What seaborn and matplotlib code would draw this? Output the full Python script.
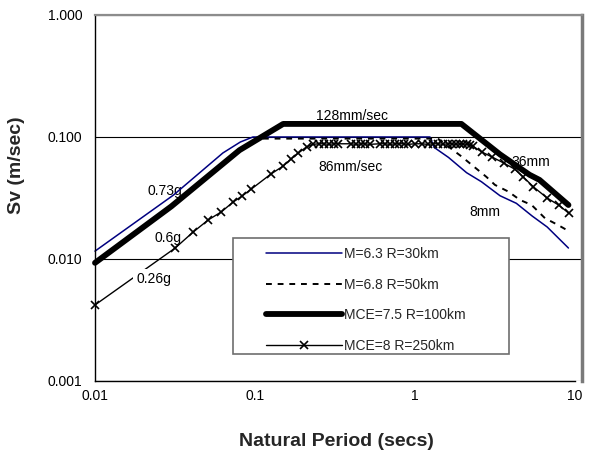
import matplotlib
matplotlib.use("Agg")
import matplotlib.pyplot as plt
from matplotlib.patches import Rectangle
from matplotlib.ticker import NullLocator
import seaborn as sns
import pandas as pd

# ---- data ----
labels = ["M=6.3 R=30km", "M=6.8 R=50km", "MCE=7.5 R=100km", "MCE=8 R=250km"]

T_a = [0.01, 0.031, 0.063, 0.081, 0.097, 1.24, 1.32, 1.62, 2.1, 2.6, 3.4, 4.3, 5.4, 6.7, 9.1]
Sv_a = [0.0116, 0.0335, 0.074, 0.091, 0.1, 0.1, 0.082, 0.068, 0.051, 0.043, 0.033, 0.0286, 0.0225, 0.0183, 0.0123]

T_b = [0.01, 0.03, 0.08, 0.105, 1.39, 1.96, 2.8, 3.16, 3.83, 4.53, 5.36, 6.49, 7.83, 9.3]
Sv_b = [0.0093, 0.027, 0.078, 0.097, 0.097, 0.069, 0.047, 0.0405, 0.0357, 0.0305, 0.0277, 0.0216, 0.019, 0.0167]

T_c = [0.01, 0.03, 0.08, 0.15, 1.95, 3.4, 5.2, 6.0, 9.1]
Sv_c = [0.0093, 0.027, 0.078, 0.128, 0.128, 0.072, 0.049, 0.0445, 0.0277]

T_d = [0.01, 0.0317, 0.041, 0.051, 0.0615, 0.073, 0.083, 0.095, 0.126, 0.15, 0.168, 0.186, 0.21, 0.23,
       0.25, 0.27, 0.29, 0.31, 0.33, 0.4, 0.43, 0.46, 0.49, 0.52, 0.6, 0.65, 0.7, 0.75, 0.8, 0.85, 0.9,
       1.0, 1.1, 1.2, 1.3, 1.4, 1.5, 1.6, 1.7, 1.8, 1.9, 2.0, 2.1, 2.2, 2.3,
       2.62, 3.03, 3.6, 4.2, 4.75, 5.5, 6.7, 7.9, 9.16]
Sv_d = [0.0042, 0.0123, 0.0166, 0.0209, 0.0243, 0.0293, 0.0328, 0.0375, 0.0498, 0.0578, 0.066, 0.0737, 0.083, 0.087,
        0.088, 0.088, 0.087, 0.088, 0.088, 0.088, 0.087, 0.088, 0.088, 0.087, 0.088, 0.088, 0.087, 0.088, 0.088, 0.088, 0.087,
        0.088, 0.088, 0.087, 0.088, 0.088, 0.087, 0.088, 0.088, 0.087, 0.088, 0.088, 0.087, 0.086, 0.084,
        0.0753, 0.0686, 0.061, 0.0545, 0.047, 0.039, 0.0316, 0.0277, 0.0237]

annotations = [("0.73g", 0.0274, 0.036), ("0.6g", 0.0286, 0.0149), ("0.26g", 0.0235, 0.0068),
               ("128mm/sec", 0.404, 0.149), ("86mm/sec", 0.393, 0.0568),
               ("36mm", 5.3, 0.0623), ("8mm", 2.74, 0.0243)]

xticks = [0.01, 0.1, 1, 10]
xticklabels = ["0.01", "0.1", "1", "10"]
yticks = [0.001, 0.01, 0.1, 1]
yticklabels = ["0.001", "0.010", "0.100", "1.000"]

# ---- styling ----
sns.set_theme(style="white")
plt.rcParams["font.family"] = ["Liberation Sans", "DejaVu Sans"]

fig = plt.figure(figsize=(5.9, 4.53), dpi=100)
W, H = 590, 453
ax = fig.add_axes([95 / W, 1 - 381 / H, (582 - 95) / W, (381 - 15) / H])

df_a = pd.DataFrame({"T": T_a, "Sv": Sv_a})
df_b = pd.DataFrame({"T": T_b, "Sv": Sv_b})
df_c = pd.DataFrame({"T": T_c, "Sv": Sv_c})
df_d = pd.DataFrame({"T": T_d, "Sv": Sv_d})

sns.lineplot(data=df_a, x="T", y="Sv", ax=ax, sort=False, estimator=None,
             color="#000080", lw=1.1, label=labels[0], clip_on=False)
sns.lineplot(data=df_b, x="T", y="Sv", ax=ax, sort=False, estimator=None,
             color="black", lw=1.4, linestyle=(0, (3, 3)), label=labels[1], clip_on=False)
sns.lineplot(data=df_c, x="T", y="Sv", ax=ax, sort=False, estimator=None,
             color="black", lw=4.2, solid_capstyle="round", solid_joinstyle="round",
             label=labels[2], clip_on=False)
sns.lineplot(data=df_d, x="T", y="Sv", ax=ax, sort=False, estimator=None,
             color="black", lw=1.0, marker="x", markersize=6, markeredgewidth=1.2,
             markeredgecolor="black", label=labels[3], clip_on=False)

ax.set_xscale("log")
ax.set_yscale("log")
ax.set_xlim(0.01, 11.06)
ax.set_ylim(0.001, 1)
ax.set_xticks(xticks)
ax.set_xticklabels(xticklabels)
ax.set_yticks(yticks)
ax.set_yticklabels(yticklabels)
ax.xaxis.set_minor_locator(NullLocator())
ax.yaxis.set_minor_locator(NullLocator())
ax.tick_params(axis="both", which="major", direction="inout", length=6, width=1,
               color="black", labelsize=10, labelcolor="black")
ax.tick_params(axis="x", pad=3)
ax.tick_params(axis="y", pad=6)
ax.tick_params(top=False, right=False)

ax.yaxis.grid(True, color="black", lw=0.8)
ax.xaxis.grid(False)
ax.set_axisbelow(True)

for side in ["left", "bottom"]:
    ax.spines[side].set_color("black")
    ax.spines[side].set_linewidth(1.0)
ax.spines["bottom"].set_bounds(0.01, 10)
ax.spines["top"].set_color("#8c8c8c")
ax.spines["top"].set_linewidth(1.6)
ax.spines["right"].set_color("#7a7a7a")
ax.spines["right"].set_linewidth(2.5)

ax.set_xlabel("Natural Period (secs)", fontsize=14, fontweight="bold")
ax.set_ylabel("Sv (m/sec)", fontsize=14, fontweight="bold")
ax.xaxis.set_label_coords(0.495, -0.142)
ax.yaxis.set_label_coords(-0.144, 0.59)

for txt, tx, ty in annotations:
    kw = dict(fontsize=10, ha="center", va="center", color="black", zorder=1.5)
    if txt == "0.26g":
        kw.update(bbox=dict(facecolor="white", edgecolor="none", pad=2.5), zorder=3)
    ax.text(tx, ty, txt, **kw)

# legend box
x0 = (233 - 95) / 487
x1 = (509 - 95) / 487
y0 = (381 - 354) / 366
y1 = (381 - 238) / 366
ax.add_patch(Rectangle((x0, y0), x1 - x0, y1 - y0, transform=ax.transAxes,
                       facecolor="white", edgecolor="#6e6e6e", lw=1.2, zorder=4))
leg = ax.legend(loc="upper left", bbox_to_anchor=((266 - 95) / 487, (381 - 247) / 366),
                frameon=False, fontsize=10, handlelength=5.5, handletextpad=0.1,
                labelspacing=1.2, borderpad=0, borderaxespad=0, numpoints=1)
leg.set_zorder(5)

fig.savefig("out.png", dpi=100, facecolor="white")
